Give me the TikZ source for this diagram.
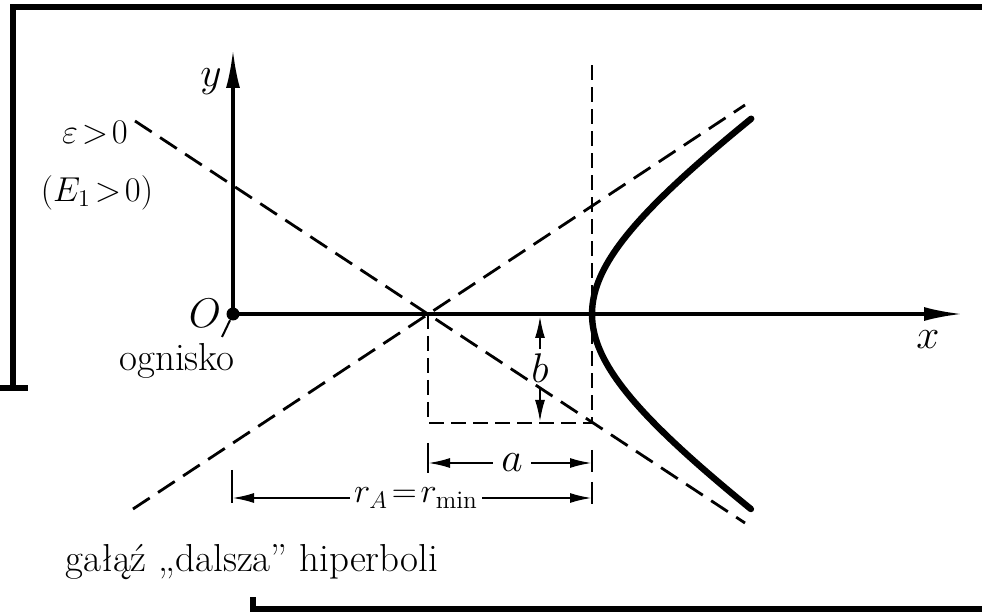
\documentclass[tikz,border=0pt]{standalone}
\usepackage{fontspec}
\usetikzlibrary{arrows.meta}
\newcommand\myrel[1]{\mskip2mu{#1}\mskip2mu}
\begin{document}
\begin{tikzpicture}[x=0.5pt,y=-0.5pt,
  frame/.style={line width=3pt,line join=miter},
  axis/.style={line width=1.6pt,-{Latex[length=19pt,width=7pt]}},
  dimarrow/.style={line width=1.1pt,-{Latex[length=11pt,width=5pt]}},
  dimtick/.style={line width=1.1pt},
  asym/.style={line width=1.4pt,dash pattern=on 10pt off 5pt},
  helper/.style={line width=1.4pt,dash pattern=on 7.5pt off 3.5pt},
  curve/.style={line width=3.2pt,line cap=round},
  lbl/.style={font=\fontsize{19.5}{23}\selectfont,inner sep=2pt},
  mlbl/.style={font=\fontsize{18}{22}\selectfont,inner sep=2pt}
]
\useasboundingbox (0,0) rectangle (982,615);
% frame
\draw[frame] (0,388) -- (28,388);
\draw[frame] (13,388) -- (13,7) -- (982,7);
\draw[frame] (253,597) -- (253,609) -- (982,609);
% axes
\node[circle,fill,inner sep=0pt,minimum size=6.5pt] (O) at (233,314) {};
\coordinate (ytip) at (233,50);
\coordinate (xtip) at (962,314);
\draw[axis] (O.center) -- (ytip);
\draw[axis] (O.center) -- (xtip);
\node[lbl] (ylab) at (211,82) {$y$};
\node[lbl] (xlab) at (928,340) {$x$};
\node[lbl] (Olab) at (205,313) {$O$};
\node[lbl] (ogn) at (177,361) {ognisko};
\coordinate (ognlead) at (222,337);
\draw[line width=1pt] (O) -- (ognlead);
% asymptotes
\coordinate (C) at (428,314);
\coordinate (A1s) at (135,121);
\coordinate (A1e) at (745,523);
\coordinate (A2s) at (133,509);
\coordinate (A2e) at (745,105);
\draw[asym] (A1s) -- (A1e);
\draw[asym] (A2s) -- (A2e);
% helper rectangle and vertex line
\coordinate (Cb) at (428,423);
\coordinate (Vb) at (592,423);
\coordinate (Vt) at (592,62);
\draw[helper] (C) -- (Cb) -- (Vb) -- (Vt);
% hyperbola branch
\draw[curve,domain=-1.3:1.3,samples=80,variable=\t]
  plot ({428+164*cosh(\t)},{314+115*sinh(\t)});
% b
\node[lbl] (b) at (540,368) {$b$};
\coordinate (bt) at (540,316);
\coordinate (bb) at (540,422);
\draw[dimarrow] (b.north) -- (bt);
\draw[dimarrow] (b.south) -- (bb);
% a
\node[lbl,inner sep=4pt] (a) at (512,463) {$a$};
\coordinate (aL) at (428,463);
\coordinate (aR) at (592,463);
\draw[dimtick] (428,443) -- (428,473);
\draw[dimtick] (592,450) -- (592,472);
\draw[dimarrow] (a.west) -- (aL);
\draw[dimarrow] (a.east) -- (aR);
% r_A
\node[mlbl,inner sep=2pt] (rA) at (416,498) {$r_A\myrel{=}r_{\min}$};
\coordinate (rL) at (232,498);
\coordinate (rR) at (592,498);
\draw[dimtick] (232,470) -- (232,503);
\draw[dimtick] (592,482) -- (592,504);
\draw[dimarrow] (rA.west) -- (rL);
\draw[dimarrow] (rA.east) -- (rR);
% left labels
\node[mlbl] (eps) at (95,133) {$\varepsilon\myrel{>}0$};
\node[mlbl] (E1) at (97,193) {$(E_1\myrel{>}0)$};
\node[lbl,anchor=west] (far) at (61,562) {gałąź „dalsza” hiperboli};
\end{tikzpicture}
\end{document}
